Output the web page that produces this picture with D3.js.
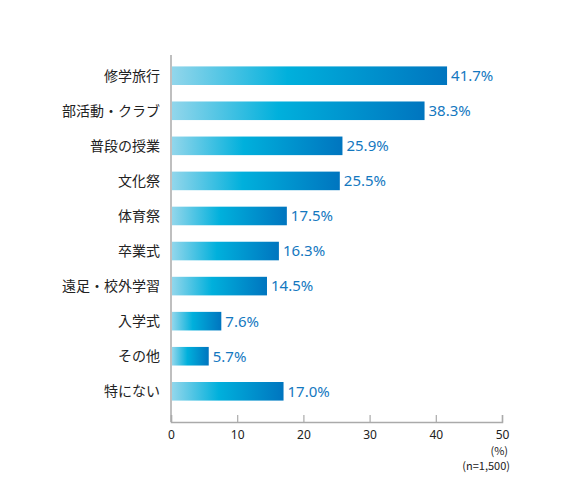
<!DOCTYPE html>
<html lang="ja">
<head>
<meta charset="UTF-8">
<title>chart</title>
<style>
  body { margin: 0; background: #fff; }
  text { font-family: "Noto Sans CJK JP", "Noto Sans", sans-serif; }
</style>
</head>
<body>
<script src="https://cdn.jsdelivr.net/npm/d3@7"></script>
<script>
  const categories = ['修学旅行', '部活動・クラブ', '普段の授業', '文化祭', '体育祭', '卒業式', '遠足・校外学習', '入学式', 'その他', '特にない']
  const values = [41.7, 38.3, 25.9, 25.5, 17.5, 16.3, 14.5, 7.6, 5.7, 17.0]
  const ticks = [0, 10, 20, 30, 40, 50]

  const width = 567
  const height = 496

  const svg = d3.select('body').append('svg')
    .attr('width', width)
    .attr('height', height)

  // 横軸
  const x = d3.scaleLinear().domain([0, 50]).range([171, 502])
  // 縦位置
  const y = d3.scaleBand().domain(categories).range([58, 409]).paddingInner(0.47).paddingOuter(0.24)

  const grad = svg.append('defs').append('linearGradient')
    .attr('id', 'barGrad')
    .attr('x1', '0%').attr('x2', '100%').attr('y1', '0%').attr('y2', '0%')
  grad.append('stop').attr('offset', '0%').attr('stop-color', '#92d6eb')
  grad.append('stop').attr('offset', '42%').attr('stop-color', '#00b0dc')
  grad.append('stop').attr('offset', '100%').attr('stop-color', '#0075bf')

  // 目盛り
  const axis = svg.append('g').attr('transform', 'translate(0,422)')
    .call(d3.axisBottom(x).tickValues(ticks).tickSize(-7).tickPadding(6))
  axis.select('.domain').attr('stroke', '#aaa').attr('stroke-width', 1.5)
  axis.selectAll('.tick line').attr('stroke', '#aaa').attr('stroke-width', 1.2)
  axis.selectAll('.tick text')
    .attr('dy', '0.9em')
    .attr('font-size', 12)
    .attr('fill', '#222')
    .style('font-family', '"Noto Sans", sans-serif')

  svg.append('line')
    .attr('x1', x(0)).attr('x2', x(0))
    .attr('y1', 55).attr('y2', 422)
    .attr('stroke', '#aaa').attr('stroke-width', 1.5)

  svg.selectAll('rect.bar')
    .data(values)
    .enter()
    .append('rect')
    .attr('class', 'bar')
    .attr('x', x(0) + 1)
    .attr('y', (d, i) => y(categories[i]))
    .attr('width', d => x(d) - x(0) - 1)
    .attr('height', y.bandwidth())
    .attr('fill', 'url(#barGrad)')

  svg.selectAll('text.val')
    .data(values)
    .enter()
    .append('text')
    .attr('class', 'val')
    .attr('x', d => x(d) + 4)
    .attr('y', (d, i) => y(categories[i]) + y.bandwidth() / 2)
    .attr('dy', '0.36em')
    .attr('font-size', 15)
    .attr('fill', '#1478bf')
    .style('font-family', '"Noto Sans", sans-serif')
    .text(d => d.toFixed(1) + '%')

  svg.selectAll('text.cat')
    .data(categories)
    .enter()
    .append('text')
    .attr('class', 'cat')
    .attr('x', 160)
    .attr('y', d => y(d) + y.bandwidth() / 2)
    .attr('dy', '0.36em')
    .attr('text-anchor', 'end')
    .attr('font-size', 14)
    .attr('fill', '#222')
    .text(d => d)

  svg.append('text')
    .attr('x', 508).attr('y', 455)
    .attr('text-anchor', 'end')
    .attr('font-size', 11)
    .attr('fill', '#222')
    .text('(%)')
  svg.append('text')
    .attr('x', 510).attr('y', 470)
    .attr('text-anchor', 'end')
    .attr('font-size', 11)
    .attr('fill', '#222')
    .text('(n=1,500)')
</script>
</body>
</html>
